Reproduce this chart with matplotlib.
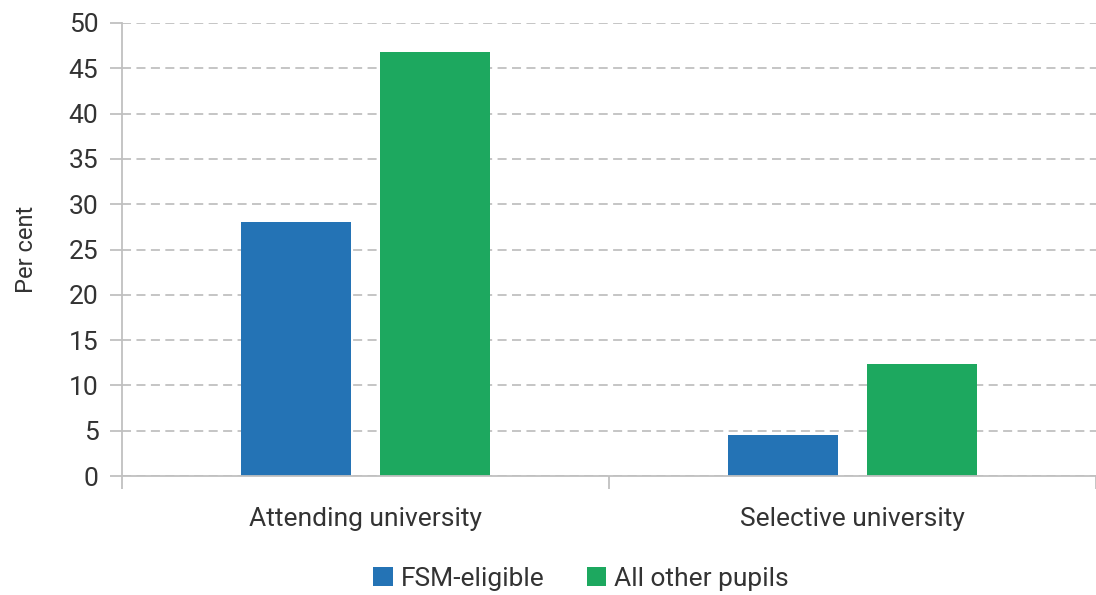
import matplotlib.pyplot as plt
import numpy as np

plt.rcParams['font.family'] = ['Roboto', 'DejaVu Sans']

categories = ["Attending university", "Selective university"]
fsm_eligible = [28.0, 4.5]
other_pupils = [46.8, 12.4]
series_names = ["FSM-eligible", "All other pupils"]
colors = ["#2473b5", "#1da85f"]
y_ticks = [0, 5, 10, 15, 20, 25, 30, 35, 40, 45, 50]

fig = plt.figure(figsize=(10.96, 5.95), dpi=100)
ax = fig.add_axes([122 / 1096, 1 - 476 / 595, (1096 - 122) / 1096, (476 - 23) / 595])

x = np.arange(len(categories))
w = 0.225
ax.bar(x - 0.1425, fsm_eligible, width=w, color=colors[0], label=series_names[0])
ax.bar(x + 0.1425, other_pupils, width=w, color=colors[1], label=series_names[1])

ax.set_ylim(0, 50)
ax.set_xlim(-0.5, (1096 - 122) / 489.5 - 0.5)
ax.set_yticks(y_ticks)
ax.yaxis.grid(True, color="#c0c0c0", linestyle=(0, (5, 3)), linewidth=1.3)
ax.set_axisbelow(True)

ax.set_xticks(x)
ax.set_xticklabels(categories)
ax.set_xticks([-0.5, 0.5, 1.5], minor=True)
ax.tick_params(axis="x", which="major", length=0, pad=22, labelsize=19, labelcolor="#333333")
ax.tick_params(axis="x", which="minor", length=9, color="#c0c0c0", width=1.3)
ax.tick_params(axis="y", length=9, color="#c0c0c0", width=1.3, labelsize=19, labelcolor="#333333", pad=8)

for s in ["top", "right"]:
    ax.spines[s].set_visible(False)
ax.spines["left"].set_color("#c0c0c0")
ax.spines["bottom"].set_color("#c0c0c0")
ax.spines["left"].set_linewidth(1.3)
ax.spines["bottom"].set_linewidth(1.3)

ax.set_ylabel("Per cent", fontsize=17, color="#333333", labelpad=22)

fig.legend(loc="lower center", bbox_to_anchor=(0.53, -0.033), ncol=2, frameon=False,
           fontsize=19, handlelength=0.75, handleheight=0.75, handletextpad=0.3,
           columnspacing=1.6, labelcolor="#333333")

fig.savefig("out.png", dpi=100)
